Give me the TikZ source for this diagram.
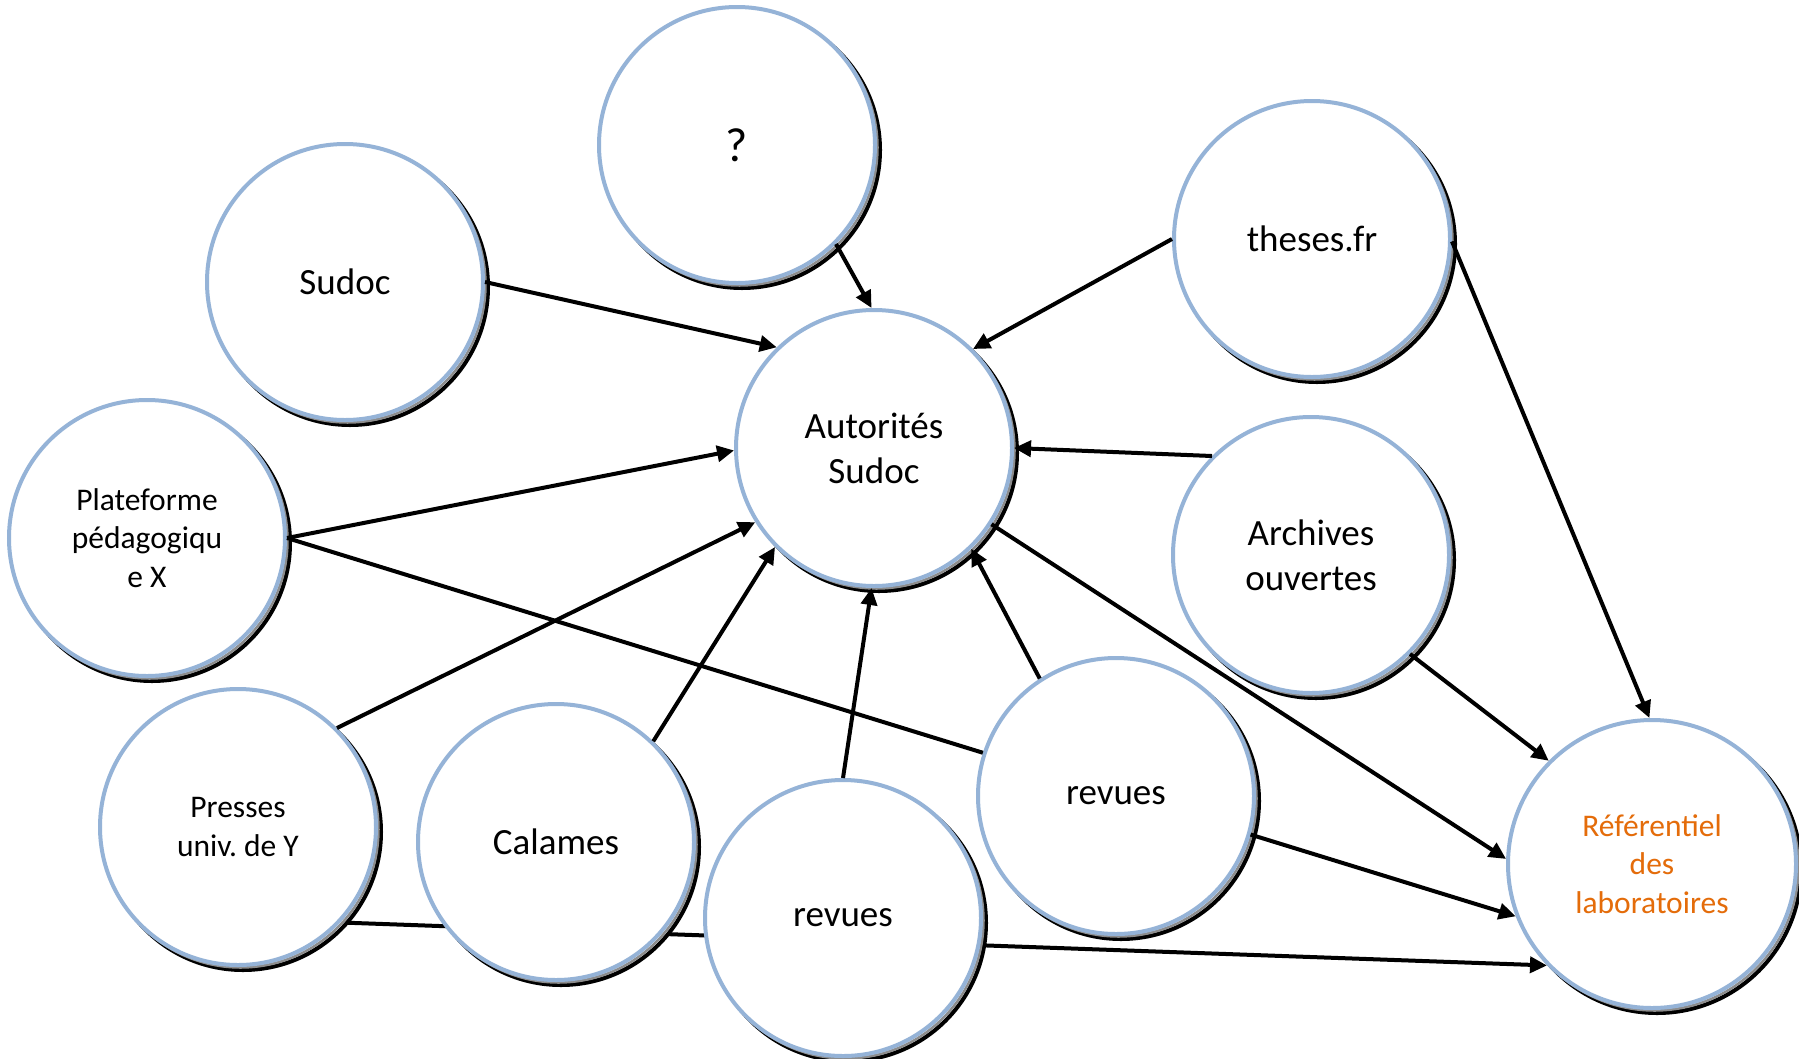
\documentclass[tikz,border=0pt]{standalone}
\usepackage{fontspec}
\setmainfont{Carlito}
\usetikzlibrary{arrows.meta}
\pgfdeclarelayer{bg}
\pgfsetlayers{bg,main}
\definecolor{bubblue}{RGB}{149,179,215}
\definecolor{laborange}{RGB}{228,108,10}
\frenchspacing
\begin{document}
\begin{tikzpicture}[x=1pt,y=-1pt,
  bub/.style={circle, draw=bubblue, line width=4pt, fill=white, inner sep=0pt,
    minimum size=276pt, align=center, font=\fontsize{37}{45}\selectfont,
    preaction={draw=black, fill=white, line width=4pt, transform canvas={xshift=5pt,yshift=-5pt}},
    preaction={draw=black!45, line width=2.5pt, transform canvas={xshift=2.5pt,yshift=-2.5pt}}},
  small/.style={font=\fontsize{31.5}{38.5}\selectfont},
  arr/.style={line width=4pt, -{Triangle[length=17pt,width=16pt]}},
  ln/.style={line width=4pt}]
\useasboundingbox (0,0) rectangle (1799,1058);
\node[bub,font=\fontsize{48}{56}\selectfont] (q) at (737,145) {?};
\node[bub] (sudoc) at (345,282) {Sudoc};
\node[bub,small] (plat) at (147,538) {Plateforme\\pédagogiqu\\e X};
\node[bub] (aut) at (874,448) {Autorités\\Sudoc};
\node[bub] (theses) at (1312,239) {theses.fr};
\node[bub] (arch) at (1311,555) {Archives\\ouvertes};
\node[bub,small] (presses) at (238,827) {Presses\\univ.\ de Y};
\node[bub] (cal) at (556,842) {Calames};
\node[bub] (revb) at (843,918) {revues};
\node[bub] (revm) at (1116,796) {revues};
\node[bub,small,minimum size=288pt,text=laborange] (ref) at (1652,864) {Référentiel\\des\\laboratoires};
\draw[arr] (sudoc.0) -- (aut.134);
\draw[arr] (q.315) -- (aut.91);
\draw[arr] (theses.180) -- (aut.45);
\draw[arr] (plat.0) -- (aut.181);
\draw[arr] (arch.135) -- (aut.0);
\draw[arr] (presses.45) -- (aut.212);
\draw[arr] (cal.46) -- (aut.225);
\draw[arr] (revb.90) -- (aut.269);
\draw[arr] (revm.123) -- (aut.314);
\draw[ln] (plat.0) -- (revm.162);
\draw[arr] (aut.327) -- (ref.178);
\draw[arr] (theses.359) -- (ref.91);
\draw[arr] (arch.315) -- (ref.135);
\draw[arr] (revm.344) -- (ref.201);
\begin{pgfonlayer}{bg}
\draw[arr] (presses.317) -- (ref.224);
\end{pgfonlayer}
\end{tikzpicture}
\end{document}
